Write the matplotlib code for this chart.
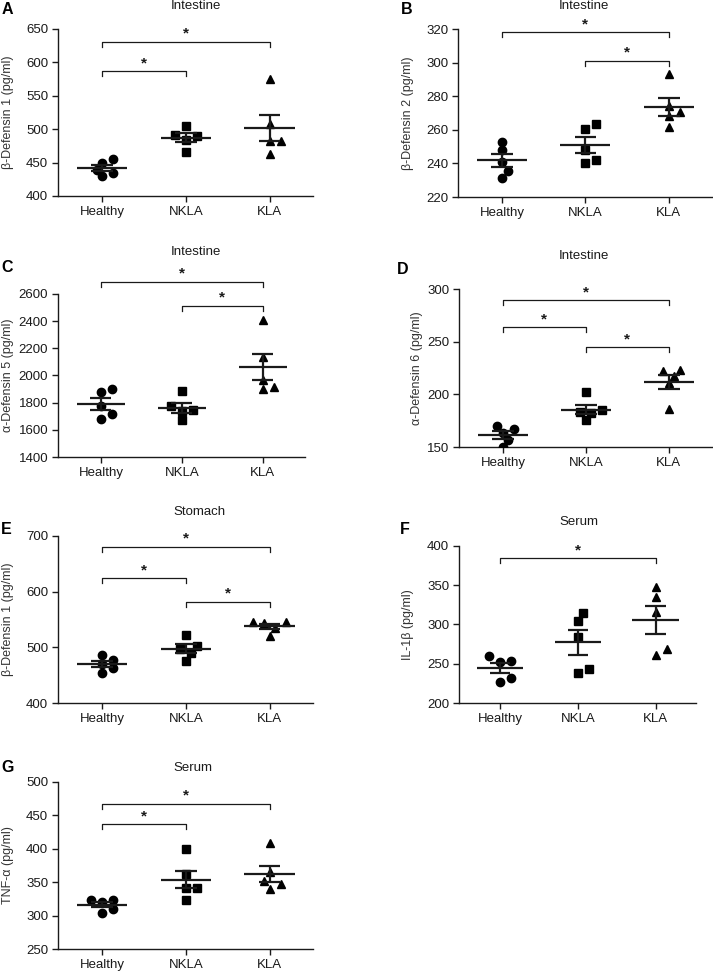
"""Seven-panel scatter (mean +/- SEM) of defensin / cytokine levels."""
import matplotlib

matplotlib.use("Agg")
import matplotlib.pyplot as plt  # noqa: E402
import numpy as np  # noqa: E402

plt.rcParams["font.family"] = ["Liberation Sans", "DejaVu Sans"]

groups = ["Healthy", "NKLA", "KLA"]
markers = ["o", "s", "^"]

# values per group (Healthy, NKLA, KLA), pg/ml
a_vals = [[455, 449, 439, 435, 430], [505, 492, 490, 484, 466], [575, 508, 482, 482, 463]]
b_vals = [[253, 248, 241, 235.5, 231.3], [263.7, 260.5, 248, 242, 240], [293.4, 274.4, 270.4, 268.2, 261.5]]
c_vals = [[1902, 1880, 1776, 1715, 1678], [1884, 1776, 1744, 1737, 1671], [2408, 2133, 1966, 1912, 1899]]
d_vals = [[170, 167, 163, 157, 150], [202, 185, 183, 182, 175.5], [223, 222, 217, 211, 186]]
e_vals = [[486, 478, 470, 463, 453], [523, 502, 497, 489, 476], [546, 545, 543, 535, 521]]
f_vals = [[259.3, 253.8, 252, 231.4, 227.1], [314.4, 304.7, 284.7, 243.6, 238.1], [347.5, 334.7, 315.7, 268.6, 261.4]]
g_vals = [[324, 323, 320, 310, 304], [399, 363, 342, 341, 323.6], [408, 365.8, 352, 347, 340.5]]

# significant pairs (group index i, group index j)
a_sig = [(0, 1), (0, 2)]
b_sig = [(0, 2), (1, 2)]
c_sig = [(0, 2), (1, 2)]
d_sig = [(0, 2), (0, 1), (1, 2)]
e_sig = [(0, 2), (0, 1), (1, 2)]
f_sig = [(0, 2)]
g_sig = [(0, 2), (0, 1)]

ylabels = ["β-Defensin 1 (pg/ml)", "β-Defensin 2 (pg/ml)", "α-Defensin 5 (pg/ml)",
           "α-Defensin 6 (pg/ml)", "β-Defensin 1 (pg/ml)", "IL-1β (pg/ml)", "TNF-α (pg/ml)"]
titles = ["Intestine", "Intestine", "Intestine", "Intestine", "Stomach", "Serum", "Serum"]
letters = ["A", "B", "C", "D", "E", "F", "G"]

W, H = 713, 972
# layout in pixels: axes (left, top, right, bottom), y ticks, bracket heights,
# title centre, letter centre, ylabel centre x
panels = [
    dict(vals=a_vals, sig=a_sig, box=(58, 29, 313, 196), yt=(400, 650, 50),
         br=[587, 631], title=(196, 6), letter=(7, 10), ylx=8),
    dict(vals=b_vals, sig=b_sig, box=(458, 29, 712, 197), yt=(220, 320, 20),
         br=[318.2, 301.2], title=(584, 6), letter=(407, 9), ylx=408),
    dict(vals=c_vals, sig=c_sig, box=(58, 294, 305, 457), yt=(1400, 2600, 200),
         br=[2691, 2514], title=(196, 252), letter=(7, 268), ylx=8),
    dict(vals=d_vals, sig=d_sig, box=(459, 289, 712, 447), yt=(150, 300, 50),
         br=[289.2, 263.8, 244.7], title=(584, 256), letter=(403, 269), ylx=417),
    dict(vals=e_vals, sig=e_sig, box=(58, 536, 313, 703), yt=(400, 700, 100),
         br=[681, 624, 582], title=(199, 512), letter=(6, 529), ylx=8),
    dict(vals=f_vals, sig=f_sig, box=(459, 546, 696, 703), yt=(200, 400, 50),
         br=[384.3], title=(579, 522), letter=(405, 529), ylx=408),
    dict(vals=g_vals, sig=g_sig, box=(58, 782, 313, 949), yt=(250, 500, 50),
         br=[467.7, 436.4], title=(193, 768), letter=(8, 768), ylx=8),
]

FS = 9.5
INK = "#1a1a1a"


def swarm_dx(ax, x0, values, diam=8.0, step=5.5):
    """Spread overlapping points sideways (pixel space), return data offsets."""
    pts = ax.transData.transform([(x0, v) for v in values])
    px_per_unit = ax.transData.transform((1, 0))[0] - ax.transData.transform((0, 0))[0]
    placed, out = [], [0.0] * len(values)
    for i in np.argsort([p[1] for p in pts]):
        y = pts[i][1]
        for k in [0, 1, -1, 2, -2, 3, -3]:
            dx = k * step
            if all(np.hypot(dx - pdx, y - py) >= diam for pdx, py in placed):
                break
        placed.append((dx, y))
        out[i] = dx / px_per_unit
    return out


fig = plt.figure(figsize=(W / 100, H / 100), dpi=100)

for p, ylabel, title, letter in zip(panels, ylabels, titles, letters):
    l, t, r, b = p["box"]
    ax = fig.add_axes([l / W, 1 - b / H, (r - l) / W, (b - t) / H])
    y0, y1, ys = p["yt"]
    ax.set_ylim(y0, y1)
    ax.set_xlim(-0.53, 2.52)
    ax.set_yticks(np.arange(y0, y1 + ys / 2, ys))
    ax.set_xticks(range(3))
    ax.set_xticklabels(groups)
    ax.tick_params(labelsize=FS, length=4, width=1, colors=INK, pad=3)
    for s in ["top", "right"]:
        ax.spines[s].set_visible(False)
    for s in ["left", "bottom"]:
        ax.spines[s].set_linewidth(1)
        ax.spines[s].set_color(INK)

    for gi, vals in enumerate(p["vals"]):
        v = np.asarray(vals, dtype=float)
        dx = swarm_dx(ax, gi, v)
        ax.plot(gi + np.asarray(dx), v, linestyle="none", marker=markers[gi],
                ms=6 if gi != 1 else 5.3, color="black", zorder=3)
        m = v.mean()
        sem = v.std(ddof=1) / np.sqrt(len(v))
        ax.hlines(m, gi - 0.3, gi + 0.3, color=INK, lw=1.6, zorder=4)
        ax.hlines([m - sem, m + sem], gi - 0.13, gi + 0.13, color=INK, lw=1.6, zorder=4)
        ax.vlines(gi, m - sem, m + sem, color=INK, lw=1.6, zorder=4)

    tick = (y1 - y0) * 0.03
    for (i, j), yb in zip(p["sig"], p["br"]):
        ax.plot([i, i, j, j], [yb - tick, yb, yb, yb - tick], color=INK, lw=0.9,
                clip_on=False)
        ax.text((i + j) / 2, yb + (y1 - y0) * 0.005, "*", ha="center", va="bottom",
                fontsize=11, fontweight="bold", color=INK, clip_on=False)

    fig.text(p["ylx"] / W, 1 - (t + b) / 2 / H, ylabel, rotation=90, ha="center",
             va="center", fontsize=FS - 0.5, color="#333333")

    tx, ty = p["title"]
    fig.text(tx / W, 1 - ty / H, title, ha="center", va="center", fontsize=FS, color=INK)
    lx, ly = p["letter"]
    fig.text(lx / W, 1 - ly / H, letter, ha="center", va="center", fontsize=11.5,
             fontweight="bold", color="black")

fig.savefig("out.png", dpi=100)
